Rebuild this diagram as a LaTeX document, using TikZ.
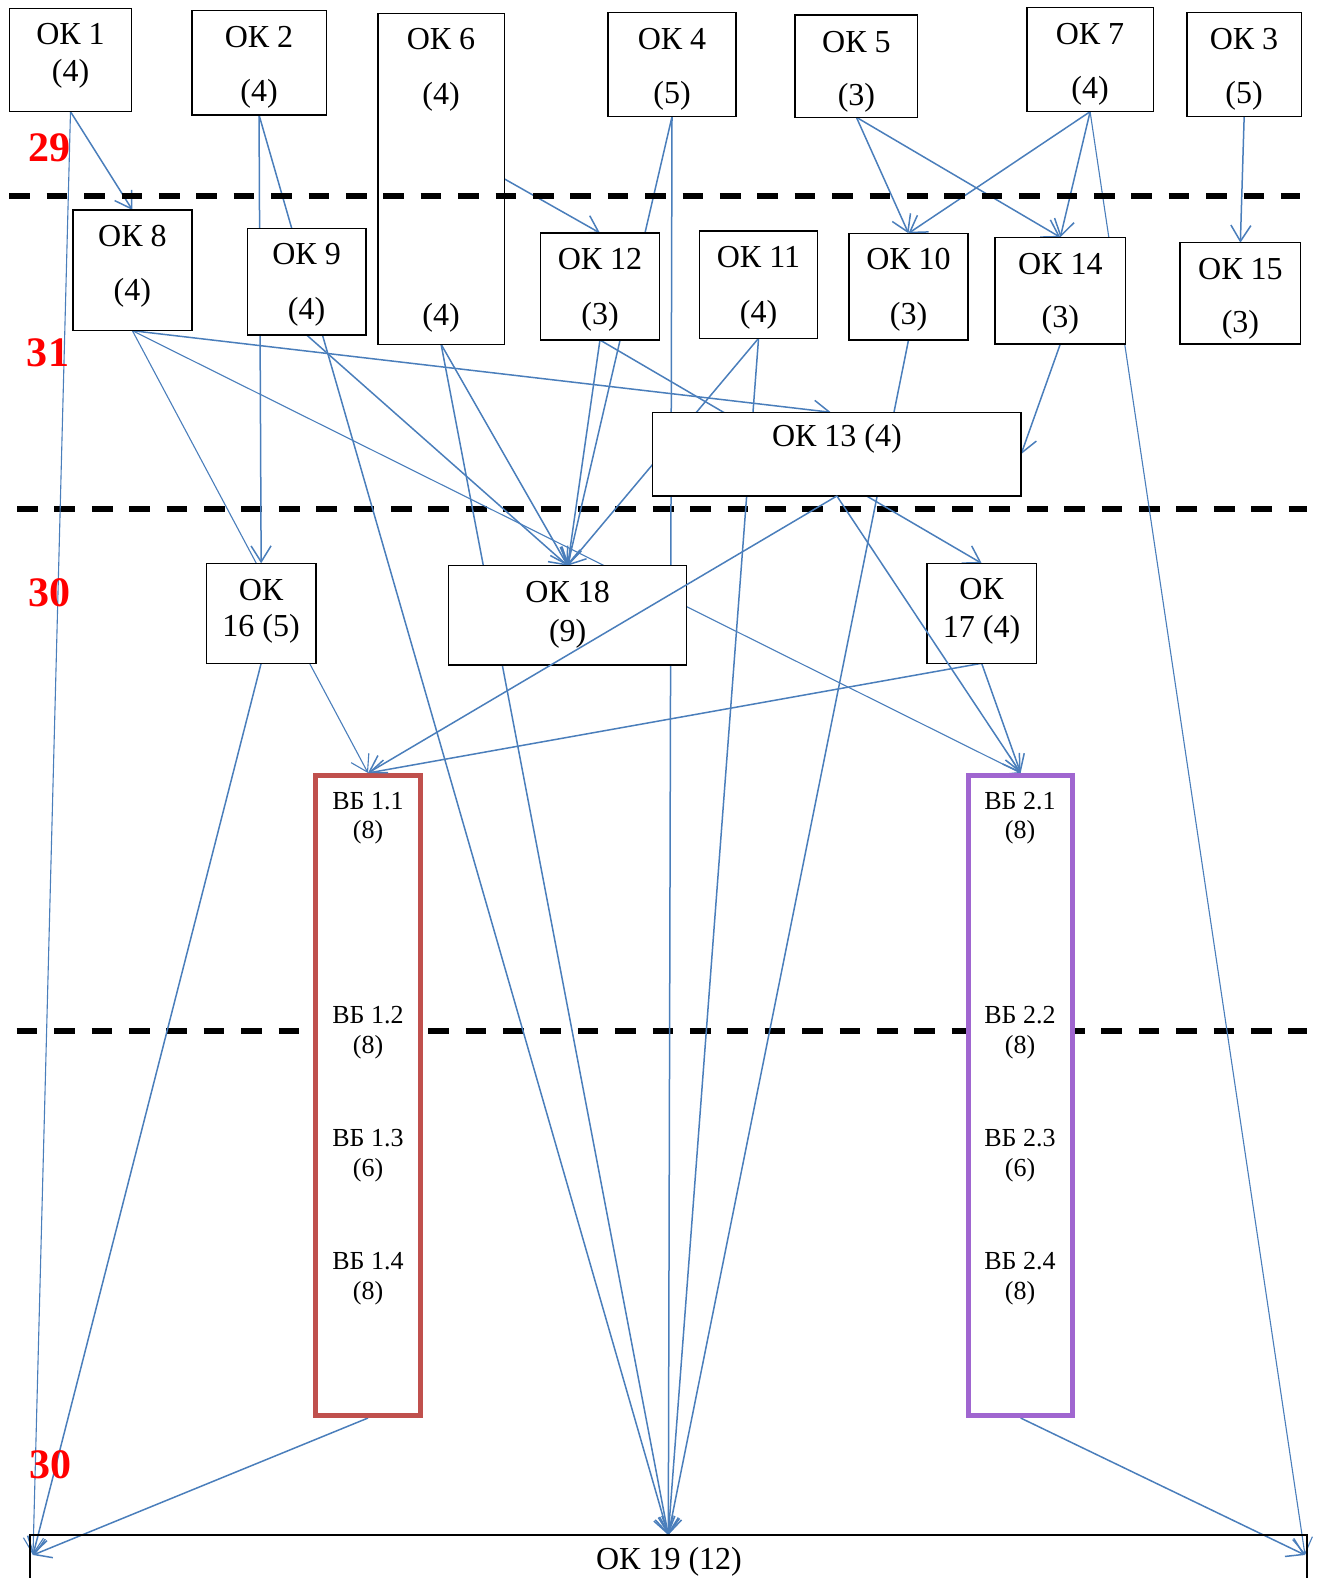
\documentclass[tikz,border=0pt]{standalone}
\usepackage{fontspec}
\setmainfont{Liberation Serif}
\usetikzlibrary{arrows.meta,calc}
\definecolor{lnblue}{RGB}{74,126,187}
\definecolor{vbred}{RGB}{192,80,77}
\definecolor{vbpurple}{RGB}{160,102,208}
\pgfdeclarelayer{bg}
\pgfdeclarelayer{fg}
\pgfsetlayers{bg,main,fg}
\begin{document}
\begin{tikzpicture}[x=1pt,y=-1pt,
  box/.style={draw=black, line width=1.4pt, fill=white, rectangle, inner sep=0pt, outer sep=0pt},
  vbbox/.style={draw=#1, line width=5pt, fill=white, rectangle, inner sep=0pt},
  txt/.style={inner sep=0pt, font=\fontsize{32pt}{38pt}\selectfont},
  vbtxt/.style={inner sep=0pt, font=\fontsize{26pt}{31pt}\selectfont},
  rednum/.style={inner sep=0pt, text=red, font=\fontsize{42pt}{48pt}\selectfont\bfseries},
  dashline/.style={draw=black, line width=5.8pt, dash pattern=on 20.7pt off 16.7pt},
  conn/.style={draw=lnblue, line width=1.5pt, -{Straight Barb[length=16pt,width=20pt]}},
  thin/.style={line width=1.1pt}
]
\useasboundingbox (0,0) rectangle (1324,1578);

% ---------- boxes ----------
\node[box, minimum width=122.4pt, minimum height=103.4pt] (ok1) at (70.5,60) {};
\node[box, minimum width=134.3pt, minimum height=104.3pt] (ok2) at (259.05,62.85) {};
\node[box, minimum width=126.2pt, minimum height=331pt] (ok6) at (441.1,178.8) {};
\node[box, minimum width=128pt, minimum height=104.4pt] (ok4) at (672,64.5) {};
\node[box, minimum width=122.6pt, minimum height=102.3pt] (ok5) at (856.4,66.15) {};
\node[box, minimum width=126.6pt, minimum height=104.4pt] (ok7) at (1090.1,59.5) {};
\node[box, minimum width=114.1pt, minimum height=104pt] (ok3) at (1244.15,64.7) {};
\node[box, minimum width=119.2pt, minimum height=120.7pt] (ok8) at (132.4,270.35) {};
\node[box, minimum width=118.3pt, minimum height=106.3pt] (ok9) at (306.65,281.85) {};
\node[box, minimum width=119.1pt, minimum height=107pt] (ok12) at (599.95,286.5) {};
\node[box, minimum width=118.1pt, minimum height=107.3pt] (ok11) at (758.55,284.65) {};
\node[box, minimum width=119pt, minimum height=106.7pt] (ok10) at (908.5,286.65) {};
\node[box, minimum width=130.6pt, minimum height=106.7pt] (ok14) at (1060.3,290.65) {};
\node[box, minimum width=120.7pt, minimum height=101.3pt] (ok15) at (1240.35,293.35) {};
\node[box, minimum width=368.5pt, minimum height=83.7pt] (ok13) at (836.85,454.15) {};
\node[box, minimum width=109.7pt, minimum height=100pt] (ok16) at (261.15,613.3) {};
\node[box, minimum width=237.9pt, minimum height=99.3pt] (ok18) at (567.65,615.35) {};
\node[box, minimum width=109.3pt, minimum height=100pt] (ok17) at (981.65,613.3) {};
\node[vbbox=vbred, minimum width=105pt, minimum height=640pt] (vb1) at (368,1095.5) {};
\node[vbbox=vbpurple, minimum width=104.3pt, minimum height=640pt] (vb2) at (1020.65,1095.5) {};
\node[box, fill=none, line width=1.8pt, minimum width=1277.4pt, minimum height=105pt] (ok19) at (668.3,1587.5) {};

\coordinate (L) at (33,1555);
\coordinate (R) at (1305,1555);

% ---------- texts ----------
\node[txt] (t1a) at (70.5,34) {ОК 1};
\node[txt] (t1b) at (70.5,74) {(4)};
\node[txt] (t2a) at (259,37.5) {ОК 2};
\node[txt] (t2b) at (259,94) {(4)};
\node[txt] (t6a) at (441,39) {ОК 6};
\node[txt] (t6b) at (441,97) {(4)};
\node[txt] (t6c) at (441,318) {(4)};
\node[txt] (t4a) at (672,39) {ОК 4};
\node[txt] (t4b) at (672,96) {(5)};
\node[txt] (t5a) at (856.4,42.5) {ОК 5};
\node[txt] (t5b) at (856.4,97.5) {(3)};
\node[txt] (t7a) at (1090,34) {ОК 7};
\node[txt] (t7b) at (1090,91) {(4)};
\node[txt] (t3a) at (1244,39) {ОК 3};
\node[txt] (t3b) at (1244,96) {(5)};
\node[txt] (t8a) at (132.4,236) {ОК 8};
\node[txt] (t8b) at (132.4,293) {(4)};
\node[txt] (t9a) at (306.6,254) {ОК 9};
\node[txt] (t9b) at (306.6,312) {(4)};
\node[txt] (t12a) at (600,259) {ОК 12};
\node[txt] (t12b) at (600,317) {(3)};
\node[txt] (t11a) at (758.5,257.5) {ОК 11};
\node[txt] (t11b) at (758.5,315) {(4)};
\node[txt] (t10a) at (908.5,259) {ОК 10};
\node[txt] (t10b) at (908.5,317) {(3)};
\node[txt] (t14a) at (1060.3,264) {ОК 14};
\node[txt] (t14b) at (1060.3,320) {(3)};
\node[txt] (t15a) at (1240.4,269) {ОК 15};
\node[txt] (t15b) at (1240.4,324.5) {(3)};
\node[txt] (t13) at (836.9,439) {ОК 13 (4)};
\node[txt] (t16a) at (261,590) {ОК};
\node[txt] (t16b) at (261,629) {16 (5)};
\node[txt] (t18a) at (567.7,592.5) {ОК 18};
\node[txt] (t18b) at (567.7,634) {(9)};
\node[txt] (t17a) at (981.6,589) {ОК};
\node[txt] (t17b) at (981.6,629.5) {17 (4)};
\node[txt] (t19) at (669,1562) {ОК 19 (12)};

\node[vbtxt] (v11) at (368,801.5) {ВБ 1.1};
\node[vbtxt] (v11n) at (368,832) {(8)};
\node[vbtxt] (v12) at (368,1015) {ВБ 1.2};
\node[vbtxt] (v12n) at (368,1047) {(8)};
\node[vbtxt] (v13) at (368,1138) {ВБ 1.3};
\node[vbtxt] (v13n) at (368,1170) {(6)};
\node[vbtxt] (v14) at (368,1261) {ВБ 1.4};
\node[vbtxt] (v14n) at (368,1293) {(8)};
\node[vbtxt] (v21) at (1020,801.5) {ВБ 2.1};
\node[vbtxt] (v21n) at (1020,832) {(8)};
\node[vbtxt] (v22) at (1020,1015) {ВБ 2.2};
\node[vbtxt] (v22n) at (1020,1047) {(8)};
\node[vbtxt] (v23) at (1020,1138) {ВБ 2.3};
\node[vbtxt] (v23n) at (1020,1170) {(6)};
\node[vbtxt] (v24) at (1020,1261) {ВБ 2.4};
\node[vbtxt] (v24n) at (1020,1293) {(8)};

\node[rednum] (r29) at (49,147.5) {29};
\node[rednum] (r31) at (48,352.5) {31};
\node[rednum] (r30a) at (49.7,592.5) {30};
\node[rednum] (r30b) at (50.6,1465) {30};

% ---------- background: dashed lines and connectors ----------
\begin{pgfonlayer}{bg}
\draw[dashline] (17,509) -- (1306.5,509);
\draw[dashline] (16.7,1031) -- (1307,1031);

\draw[conn, thin] (ok1.south) -- (L);
\draw[conn] (ok1.south) -- (ok8.north);
\draw[conn] (ok2.south) -- (ok16.north);
\draw[conn] (ok2.south) -- (ok19.north);
\draw[conn] (ok6.east) -- (ok12.north);
\draw[conn] (ok6.south) -- (ok18.north);
\draw[conn] (ok6.south) -- (ok19.north);
\draw[conn] (ok4.south) -- (ok18.north);
\draw[conn] (ok4.south) -- (ok19.north);
\draw[conn] (ok5.south) -- (ok10.north);
\draw[conn] (ok5.south) -- (ok14.north);
\draw[conn] (ok7.south) -- (ok10.north);
\draw[conn] (ok7.south) -- (ok14.north);
\draw[conn, thin] (ok7.south) -- (R);
\draw[conn] (ok3.south) -- (ok15.north);
\draw[conn] (ok8.south) -- ($(ok13.north)+(-6,0)$);
\draw[conn, thin] (ok8.south) -- (vb1.north);
\draw[conn, thin] (ok8.south) -- (vb2.north);
\draw[conn] (ok9.south) -- (ok18.north);
\draw[conn] (ok12.south) -- (ok18.north);
\draw[conn] (ok12.south) -- (ok17.north);
\draw[conn] (ok11.south) -- (ok18.north);
\draw[conn] (ok11.south) -- (ok19.north);
\draw[conn] (ok10.south) -- (ok19.north);
\draw[conn] (ok14.south) -- (ok13.east);
\draw[conn] (ok16.south) -- (L);
\draw[conn] (ok17.south) -- (vb1.north);
\draw[conn] (ok17.south) -- (vb2.north);
\draw[conn] (vb1.south) -- (L);
\draw[conn] (vb2.south) -- (R);
\end{pgfonlayer}

% ---------- foreground ----------
\begin{pgfonlayer}{fg}
\draw[dashline] (9.3,195.7) -- (1300,195.7);
\draw[conn] (ok13.south) -- (vb1.north);
\draw[conn] (ok13.south) -- (vb2.north);
\end{pgfonlayer}
\end{tikzpicture}
\end{document}
